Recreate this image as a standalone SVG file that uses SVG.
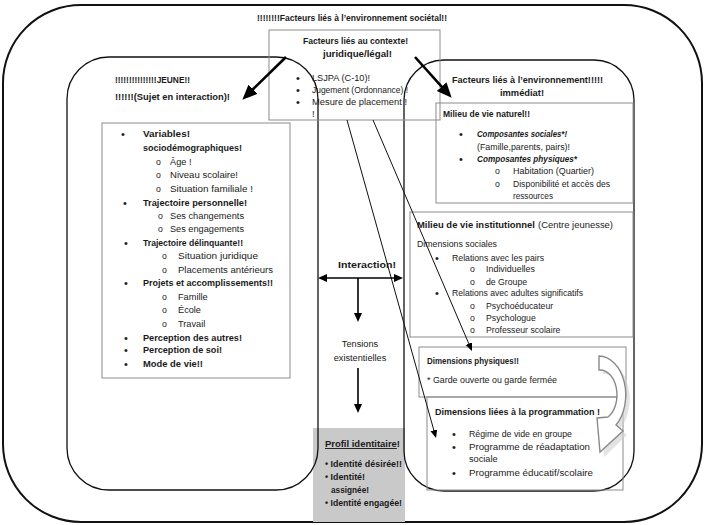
<svg xmlns="http://www.w3.org/2000/svg" width="705" height="525" viewBox="0 0 705 525">
<defs>
<style>
.t{font-family:"Liberation Sans",Arial,sans-serif;font-size:9.2px;fill:#1a1a1a}
.b{font-weight:bold}
.bi{font-weight:bold;font-style:italic}
.s{font-size:8.7px}
.d{font-size:11px}
.box{fill:none;stroke:#8c8c8c;stroke-width:1}
.rr{fill:none;stroke:#111;stroke-width:1.3}
.thick{stroke:#000;stroke-width:2.6;fill:none}
.thin{stroke:#111;stroke-width:1;fill:none}
.med{stroke:#000;stroke-width:1.6;fill:none}
</style>
<marker id="big" markerUnits="userSpaceOnUse" markerWidth="16" markerHeight="14" refX="4" refY="6.5" orient="auto"><path d="M0,0 L15,6.5 L0,13 Z" fill="#000"/></marker>
<marker id="sm" markerUnits="userSpaceOnUse" markerWidth="10" markerHeight="8" refX="2" refY="3.5" orient="auto"><path d="M0,0 L8,3.5 L0,7 Z" fill="#000"/></marker>
<marker id="md" markerUnits="userSpaceOnUse" markerWidth="11" markerHeight="9" refX="2" refY="4" orient="auto-start-reverse"><path d="M0,0 L9,4 L0,8 Z" fill="#000"/></marker>
</defs>
<rect width="705" height="525" fill="#fff"/>

<g id="outer">
<rect x="3" y="5" width="699" height="517" rx="78" fill="none" stroke="#111" stroke-width="2"/>
<text class="t b" x="352" y="21" text-anchor="middle" textLength="190" lengthAdjust="spacingAndGlyphs">!!!!!!!!Facteurs liés à l’environnement sociétal!!</text>
</g>

<g id="profil">
<rect x="313" y="428" width="92" height="94" fill="#c9c9c9"/>
</g>

<g id="jeune">
<rect class="rr" x="67" y="57" width="251" height="433" rx="42"/>
<text class="t b" x="115" y="83" textLength="75" lengthAdjust="spacingAndGlyphs">!!!!!!!!!!!!!!!JEUNE!!</text>
<text class="t b" x="115" y="100" textLength="115" lengthAdjust="spacingAndGlyphs">!!!!!!(Sujet en interaction)!</text>
</g>

<g id="immediat">
<rect class="rr" x="404" y="60" width="230" height="431" rx="40"/>
<text class="t b" x="452" y="83" textLength="151" lengthAdjust="spacingAndGlyphs">Facteurs liés à l’environnement!!!!!</text>
<text class="t b" x="500" y="96" textLength="44" lengthAdjust="spacingAndGlyphs">immédiat!</text>
</g>

<g id="juridique">
<rect class="box" x="269" y="30" width="171" height="90"/>
<text class="t b" x="303" y="44" textLength="105" lengthAdjust="spacingAndGlyphs">Facteurs liés au contexte!</text>
<text class="t b" x="323" y="57" textLength="69" lengthAdjust="spacingAndGlyphs">juridique/légal!</text>
<text class="t d" x="296" y="82">•</text><text class="t" x="312" y="81">LSJPA (C-10)!</text>
<text class="t d" x="296" y="94">•</text><text class="t" x="312" y="93" textLength="96" lengthAdjust="spacingAndGlyphs">Jugement (Ordonnance) !</text>
<text class="t d" x="296" y="106">•</text><text class="t" x="312" y="105" textLength="95" lengthAdjust="spacingAndGlyphs">Mesure de placement !</text>
<text class="t" x="312" y="117">!</text>
</g>

<g id="variables">
<rect class="box" x="102" y="123" width="188" height="255"/>
<text class="t d" x="121" y="138">•</text><text class="t b" x="143" y="137" textLength="47" lengthAdjust="spacingAndGlyphs">Variables!</text>
<text class="t b" x="143" y="151" textLength="99" lengthAdjust="spacingAndGlyphs">sociodémographiques!</text>
<text class="t s" x="156" y="165">o</text><text class="t" x="170" y="165">Âge !</text>
<text class="t s" x="156" y="178">o</text><text class="t" x="170" y="178" textLength="68" lengthAdjust="spacingAndGlyphs">Niveau scolaire!</text>
<text class="t s" x="156" y="192">o</text><text class="t" x="170" y="192" textLength="83" lengthAdjust="spacingAndGlyphs">Situation familiale !</text>
<text class="t d" x="123" y="207">•</text><text class="t b" x="143" y="206" textLength="104" lengthAdjust="spacingAndGlyphs">Trajectoire personnelle!</text>
<text class="t s" x="158" y="219">o</text><text class="t" x="170" y="219" textLength="74" lengthAdjust="spacingAndGlyphs">Ses changements</text>
<text class="t s" x="158" y="232">o</text><text class="t" x="170" y="232" textLength="74" lengthAdjust="spacingAndGlyphs">Ses engagements</text>
<text class="t d" x="124" y="247">•</text><text class="t b" x="143" y="246" textLength="100" lengthAdjust="spacingAndGlyphs">Trajectoire délinquante!!</text>
<text class="t s" x="162" y="259">o</text><text class="t" x="178" y="259" textLength="80" lengthAdjust="spacingAndGlyphs">Situation juridique</text>
<text class="t s" x="162" y="273">o</text><text class="t" x="178" y="273" textLength="95" lengthAdjust="spacingAndGlyphs">Placements antérieurs</text>
<text class="t d" x="124" y="287">•</text><text class="t b" x="143" y="286" textLength="130" lengthAdjust="spacingAndGlyphs">Projets et accomplissements!!</text>
<text class="t s" x="162" y="300">o</text><text class="t" x="178" y="300">Famille</text>
<text class="t s" x="162" y="313">o</text><text class="t" x="178" y="313">École</text>
<text class="t s" x="162" y="327">o</text><text class="t" x="178" y="327">Travail</text>
<text class="t d" x="124" y="342">•</text><text class="t b" x="143" y="341" textLength="99" lengthAdjust="spacingAndGlyphs">Perception des autres!</text>
<text class="t d" x="124" y="354">•</text><text class="t b" x="143" y="353" textLength="79" lengthAdjust="spacingAndGlyphs">Perception de soi!</text>
<text class="t d" x="124" y="368">•</text><text class="t b" x="143" y="367" textLength="60" lengthAdjust="spacingAndGlyphs">Mode de vie!!</text>
</g>

<g id="naturel">
<rect class="box" x="436" y="103" width="197" height="100"/>
<text class="t b" x="443" y="117" textLength="87" lengthAdjust="spacingAndGlyphs">Milieu de vie naturel!!</text>
<text class="t d" x="459" y="138">•</text><text class="t bi" x="477" y="137" textLength="90" lengthAdjust="spacingAndGlyphs">Composantes sociales*!</text>
<text class="t" x="477" y="150" textLength="93" lengthAdjust="spacingAndGlyphs">(Famille,parents, pairs)!</text>
<text class="t d" x="459" y="163">•</text><text class="t bi" x="477" y="162" textLength="100" lengthAdjust="spacingAndGlyphs">Composantes physiques*</text>
<text class="t s" x="495" y="174">o</text><text class="t s" x="513" y="174" textLength="81" lengthAdjust="spacingAndGlyphs">Habitation (Quartier)</text>
<text class="t s" x="495" y="187">o</text><text class="t s" x="513" y="187" textLength="97" lengthAdjust="spacingAndGlyphs">Disponibilité et accès des</text>
<text class="t s" x="513" y="199" textLength="40" lengthAdjust="spacingAndGlyphs">ressources</text>
</g>

<g id="institutionnel">
<rect class="box" x="410" y="212" width="223" height="125"/>
<text class="t b" x="417" y="228" textLength="118" lengthAdjust="spacingAndGlyphs">Milieu de vie institutionnel</text>
<text class="t s" x="538" y="228" textLength="75" lengthAdjust="spacingAndGlyphs">(Centre jeunesse)</text>
<text class="t s" x="417" y="247" textLength="80" lengthAdjust="spacingAndGlyphs">Dimensions  sociales</text>
<text class="t d" x="435" y="262">•</text><text class="t s" x="452" y="261" textLength="92" lengthAdjust="spacingAndGlyphs">Relations avec les pairs</text>
<text class="t s" x="470" y="272">o</text><text class="t s" x="486" y="272" textLength="49" lengthAdjust="spacingAndGlyphs">Individuelles</text>
<text class="t s" x="470" y="285">o</text><text class="t s" x="486" y="285">de Groupe</text>
<text class="t d" x="435" y="297">•</text><text class="t s" x="452" y="296" textLength="131" lengthAdjust="spacingAndGlyphs">Relations avec adultes significatifs</text>
<text class="t s" x="470" y="309">o</text><text class="t s" x="486" y="309">Psychoéducateur</text>
<text class="t s" x="470" y="321">o</text><text class="t s" x="486" y="321">Psychologue</text>
<text class="t s" x="470" y="333">o</text><text class="t s" x="486" y="333">Professeur scolaire</text>
</g>

<g id="physiques">
<rect class="box" x="419" y="347" width="207" height="50"/>
<text class="t b s" x="427" y="364" textLength="92" lengthAdjust="spacingAndGlyphs">Dimensions physiques!!</text>
<text class="t s" x="427" y="383" textLength="130" lengthAdjust="spacingAndGlyphs">* Garde ouverte ou garde fermée</text>
</g>

<g id="programmation">
<rect class="box" x="427" y="397" width="196" height="93"/>
<text class="t b" x="435" y="415" textLength="165" lengthAdjust="spacingAndGlyphs">Dimensions liées à la programmation !</text>
<text class="t d" x="452" y="438">•</text><text class="t" x="469" y="437" textLength="103" lengthAdjust="spacingAndGlyphs">Régime de vide en groupe</text>
<text class="t d" x="452" y="451">•</text><text class="t" x="469" y="450" textLength="121" lengthAdjust="spacingAndGlyphs">Programme de réadaptation</text>
<text class="t" x="469" y="462">sociale</text>
<text class="t d" x="452" y="477">•</text><text class="t" x="469" y="476" textLength="124" lengthAdjust="spacingAndGlyphs">Programme éducatif/scolaire</text>
</g>

<g id="cycle">
<path d="M601,358 A27,39 0 0 1 618,427 L625,433 L602,455 L599,420 L610,419 A17,25 0 0 0 601,372 Z" fill="#d0d0d0" stroke="none" opacity="0.6" transform="translate(2,2)"/>
<path d="M599,356 A27,39 0 0 1 616,425 L623,431 L600,452 L597,418 L608,417 A17,25 0 0 0 599,370 Z" fill="#fff" stroke="#8a8a8a" stroke-width="1.4"/>
</g>

<g id="interaction">
<text class="t b" x="338" y="268" textLength="58" lengthAdjust="spacingAndGlyphs">Interaction!</text>
<text class="t" x="360" y="347" text-anchor="middle">Tensions</text>
<text class="t" x="360" y="361" text-anchor="middle">existentielles</text>
</g>

<g id="profil-text">
<text class="t b" x="325" y="447" textLength="75" lengthAdjust="spacingAndGlyphs"><tspan text-decoration="underline">Profil identitaire</tspan>!</text>
<text class="t b" x="325" y="467" textLength="77" lengthAdjust="spacingAndGlyphs">• Identité désirée!!</text>
<text class="t b" x="325" y="480" textLength="40" lengthAdjust="spacingAndGlyphs">• Identité!</text>
<text class="t b" x="331" y="493" textLength="38" lengthAdjust="spacingAndGlyphs">assignée!</text>
<text class="t b" x="325" y="506" textLength="77" lengthAdjust="spacingAndGlyphs">• Identité engagée!</text>
</g>

<g id="connectors">
<line class="thick" x1="286" y1="57" x2="250.2" y2="92" marker-end="url(#big)"/>
<line class="thick" x1="415" y1="57" x2="444.3" y2="89.6" marker-end="url(#big)"/>
<line class="thin" x1="347" y1="120" x2="434.4" y2="432.2" marker-end="url(#sm)"/>
<line class="thin" x1="373" y1="120" x2="469.6" y2="345.5" marker-end="url(#sm)"/>
<line class="med" x1="325" y1="278" x2="396" y2="278" marker-start="url(#md)" marker-end="url(#md)"/>
<line class="med" x1="358" y1="278" x2="358" y2="315" marker-end="url(#md)"/>
<line class="med" x1="358" y1="368" x2="358" y2="406" marker-end="url(#md)"/>
</g>
</svg>
